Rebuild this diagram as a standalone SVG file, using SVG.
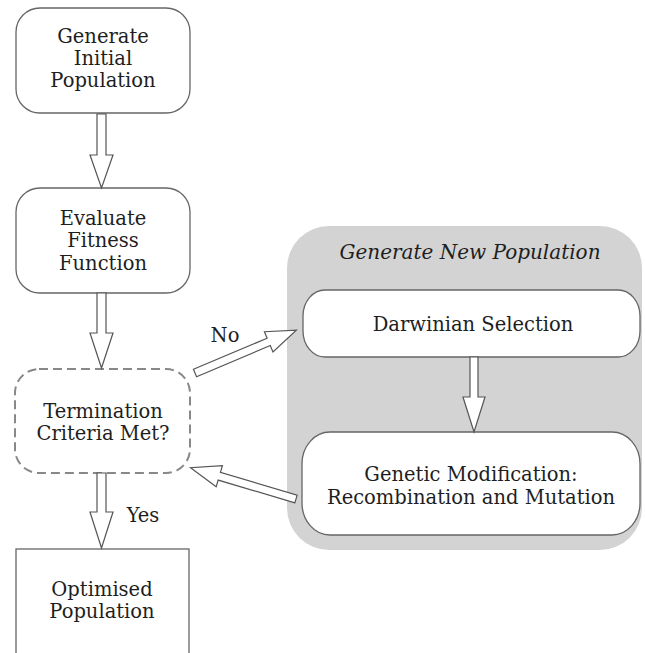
<svg xmlns="http://www.w3.org/2000/svg" width="645" height="653" viewBox="0 0 645 653">
<style>
text{font-family:"DejaVu Serif","Liberation Serif",serif;font-size:19.5px;fill:#1e1e1e;text-anchor:middle}
.it{font-style:italic;font-size:20px}
.box{fill:#fff;stroke:#666;stroke-width:1.3}
.dash{fill:#fff;stroke:#888;stroke-width:2;stroke-dasharray:9 5}
.arr{fill:#fff;stroke:#555;stroke-width:1.2;stroke-linejoin:miter}
</style>
<rect width="645" height="653" fill="#fff"/>
<g id="group-new-population">
<rect x="287" y="226" width="355" height="324" rx="42" ry="42" fill="#d3d3d3"/>
<text class="it" x="470" y="259">Generate New Population</text>
</g>
<g id="node-generate">
<rect class="box" x="16" y="8" width="174" height="105" rx="24" ry="24"/>
<text x="103" y="43">Generate</text>
<text x="103" y="65">Initial</text>
<text x="103" y="87">Population</text>
</g>
<g id="node-evaluate">
<rect class="box" x="16" y="188" width="174" height="105" rx="24" ry="24"/>
<text x="103" y="225">Evaluate</text>
<text x="103" y="247">Fitness</text>
<text x="103" y="270">Function</text>
</g>
<g id="node-termination">
<rect class="dash" x="15" y="369" width="175" height="104" rx="24" ry="24"/>
<text x="103" y="418">Termination</text>
<text x="103" y="440">Criteria Met?</text>
</g>
<g id="node-optimised">
<rect class="box" x="16" y="549" width="173" height="120"/>
<text x="102" y="596">Optimised</text>
<text x="102" y="618">Population</text>
</g>
<g id="node-darwinian">
<rect class="box" x="303" y="290" width="337" height="67" rx="22" ry="26"/>
<text x="473" y="331">Darwinian Selection</text>
</g>
<g id="node-genetic">
<rect class="box" x="302" y="432" width="338" height="103" rx="28" ry="32"/>
<text x="471" y="481">Genetic Modification:</text>
<text x="471" y="504">Recombination and Mutation</text>
</g>
<g id="connectors">
<polygon class="arr" points="97,114 106,114 106,155 113,155 101.5,188 90,155 97,155"/>
<polygon class="arr" points="97,293 106,293 106,333 113,333 101.5,368 90,333 97,333"/>
<polygon class="arr" points="97,473 106,473 106,512 113,512 101.5,548 90,512 97,512"/>
<polygon class="arr" points="470,357 478,357 478,397 485,397 474,432 463,397 470,397"/>
<polygon class="arr" transform="translate(195,373) rotate(-22.9)" points="0,-4 80,-4 80,-11 110,0 80,11 80,4 0,4"/>
<polygon class="arr" transform="translate(296,499) rotate(-163.5)" points="0,-4 80,-4 80,-11 110,0 80,11 80,4 0,4"/>
<text x="225" y="342">No</text>
<text x="143" y="522">Yes</text>
</g>
</svg>
